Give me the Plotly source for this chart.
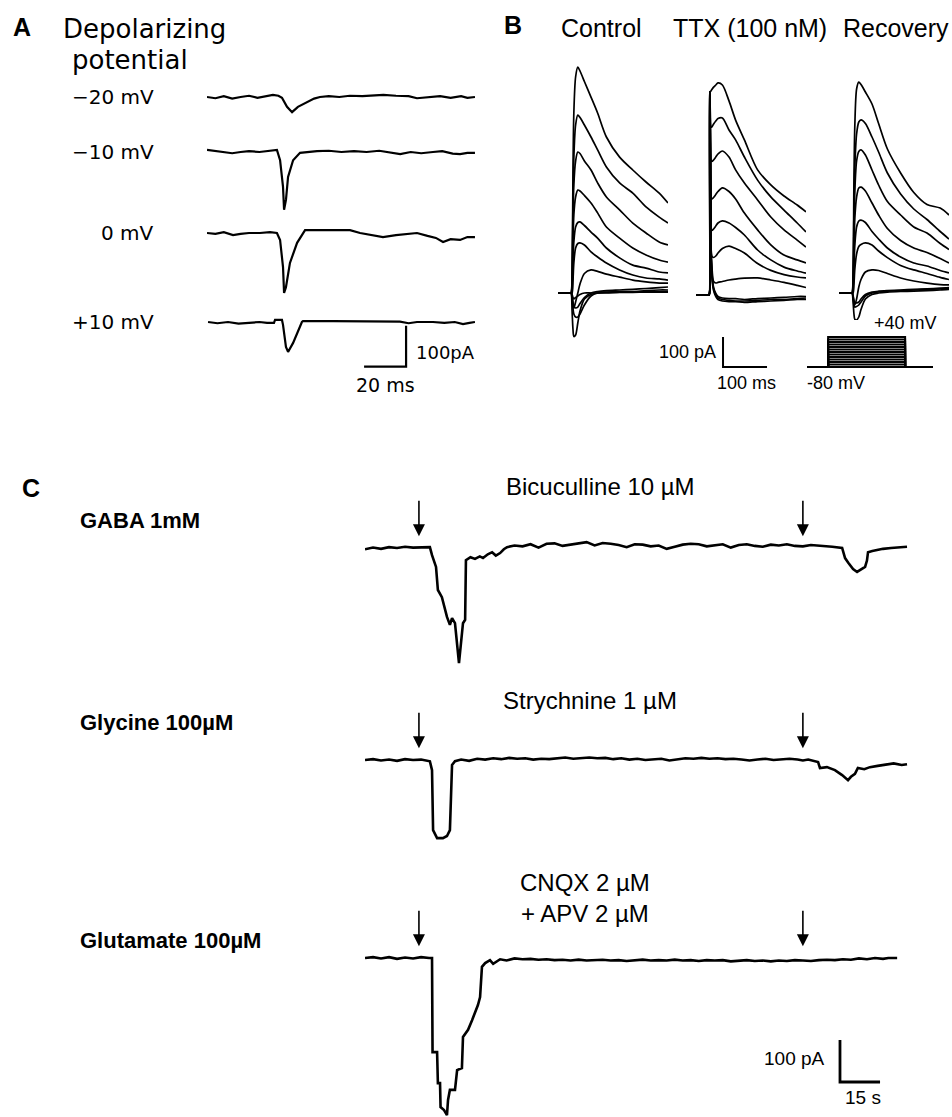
import plotly.graph_objects as go

W, H = 952, 1117

# ---------------- Panel A: currents evoked by depolarizing steps (ms, pA) ----------------
A_LABELS = ["−20 mV", "−10 mV", "0 mV", "+10 mV"]
A_T_M20 = [0, 4, 8, 12, 16, 20, 24, 28, 31.4, 34, 35.7, 38.1, 40.5, 43.3, 47.6, 51, 53.8, 58, 63, 68,
           74, 80, 84, 90, 96, 100, 106, 111, 116, 121, 124, 127.6]
A_I_M20 = [0, -3, 2, -4, 0, 3, -2, 2, 5, 3, -2, -24, -37, -24, -12, -4, 0, 2, 0, 3,
           2, 4, 5, 3, 2, -3, 0, 2, -2, 2, -2, 0]
A_T_M10 = [0, 4, 8, 12, 16, 20, 25, 30, 33.3, 34.8, 36.2, 36.7, 37.6, 38.6, 41, 44.3, 48, 52.4, 58, 64,
           70, 76, 82, 88, 92, 97, 102, 107.6, 112, 117, 120.5, 124, 127.6]
A_I_M10 = [5, 2, 0, -3, 0, 2, 0, 2, 5, -20, -85, -141, -117, -61, -20, -2, 0, 2, 3, 0,
           2, 0, 3, -2, -5, 0, -3, 0, 2, -4, -5, -2, -2]
A_T_0 = [0, 4, 8, 12.4, 16, 20, 25.2, 30, 33.3, 34.8, 36.2, 36.7, 37.6, 39.5, 42.9, 46.7, 55, 62, 68.1,
         72.9, 78, 83.8, 90, 95, 100, 105, 109, 112.4, 116, 120.5, 124, 127.6]
A_I_0 = [0, -2, 2, -5, -2, 0, 0, 2, 0, -17, -83, -146, -132, -73, -24, 7, 7, 7, 7,
         0, -5, -10, -5, -3, 0, -7, -12, -22, -15, -17, -10, -10]
A_T_P10 = [0.5, 5, 10, 15, 20, 25, 28.6, 31.9, 32.4, 35.7, 36.2, 37.6, 38.6, 41, 45.2, 45.7, 60, 75,
           91.9, 96, 100, 107.6, 113, 118, 121.9, 125, 127.6]
A_I_P10 = [0, -3, 0, -4, -2, 0, -2, -2, 5, 5, -7, -61, -73, -51, 0, 2, 2, 2,
           1, -3, 0, 0, -2, 0, -5, -2, 0]
A_SCALE_MS, A_SCALE_PA = 20, 100

# ---------------- Panel B: outward current families (ms, pA) ----------------
B_T = [0, 29, 30, 32, 34, 36, 40, 45, 50, 60, 75, 90, 110, 140, 170, 200, 230, 250]
B_CONTROL = [
    [0, 0, 0, 60, 400, 600, 720, 753, 740, 705, 653, 600, 520, 453, 410, 370, 333, 300],
    [0, 0, 0, 40, 300, 450, 560, 593, 585, 560, 520, 477, 420, 367, 333, 287, 253, 233],
    [0, 0, 0, 30, 240, 360, 440, 470, 465, 440, 410, 367, 320, 277, 233, 200, 170, 160],
    [0, 0, 0, 20, 160, 260, 320, 343, 340, 325, 300, 267, 220, 183, 150, 127, 110, 103],
    [0, 0, 0, 10, 100, 170, 220, 235, 237, 225, 203, 183, 150, 117, 93, 83, 70, 67],
    [0, 0, 0, 0, 40, 100, 150, 165, 167, 160, 137, 120, 100, 77, 60, 50, 47, 43],
    [0, 0, 0, -10, -40, -50, -30, 0, 30, 65, 77, 72, 63, 53, 43, 37, 33, 33],
    [0, 0, 0, -10, -30, -45, -50, -47, -35, -15, 0, 5, 8, 10, 12, 15, 18, 20],
    [0, 0, 0, -20, -50, -70, -80, -80, -70, -40, -10, 0, 3, 5, 5, 8, 10, 10],
    [0, 0, 0, -60, -120, -145, -140, -100, -60, -20, -5, 0, 0, 3, 3, 5, 5, 5],
    [0, 0, 0, -5, -15, -20, -15, -10, -5, 0, 0, 0, 2, 2, 2, 3, 3, 3],
]
B_TTX = [
    [0, 0, 0, 677, 680, 685, 693, 700, 707, 700, 647, 583, 517, 417, 367, 330, 300, 277],
    [0, 0, 0, 677, 560, 560, 570, 580, 588, 590, 550, 517, 460, 383, 327, 283, 240, 210],
    [0, 0, 0, 677, 450, 445, 450, 460, 470, 480, 460, 417, 373, 317, 260, 217, 183, 160],
    [0, 0, 0, 677, 330, 320, 325, 335, 345, 357, 345, 320, 273, 217, 167, 133, 117, 107],
    [0, 0, 0, 677, 220, 215, 220, 230, 240, 247, 240, 225, 200, 150, 117, 93, 80, 73],
    [0, 0, 0, 677, 200, 130, 125, 130, 140, 155, 163, 155, 140, 105, 82, 68, 60, 57],
    [0, 0, 0, 677, 180, 100, 45, 40, 42, 45, 50, 53, 56, 57, 50, 42, 32, 25],
    [0, 0, 0, 677, 170, 80, 25, 5, -5, -10, -12, -12, -15, -12, -10, -8, -5, -5],
    [0, 0, 0, 677, 160, 70, 20, 0, -10, -15, -18, -20, -20, -18, -15, -15, -12, -10],
    [0, 0, 0, 677, 150, 60, 15, -5, -15, -20, -22, -22, -25, -22, -20, -18, -15, -15],
]
B_RECOVERY = [
    [0, 0, 0, 60, 380, 560, 680, 703, 695, 670, 630, 565, 480, 400, 335, 295, 283, 260],
    [0, 0, 0, 40, 280, 420, 530, 570, 577, 565, 520, 470, 400, 330, 280, 245, 205, 180],
    [0, 0, 0, 30, 220, 340, 440, 472, 477, 460, 410, 360, 305, 260, 220, 200, 165, 145],
    [0, 0, 0, 20, 150, 250, 320, 350, 353, 340, 300, 260, 215, 175, 150, 135, 115, 100],
    [0, 0, 0, 10, 90, 160, 220, 240, 243, 235, 205, 180, 150, 120, 100, 90, 75, 67],
    [0, 0, 0, 0, 30, 80, 130, 155, 162, 167, 160, 140, 118, 92, 77, 65, 52, 45],
    [0, 0, 0, -10, -30, -40, -20, 20, 45, 70, 77, 75, 65, 50, 40, 33, 28, 27],
    [0, 0, 0, -10, -25, -33, -33, -30, -20, -5, 3, 6, 8, 10, 12, 14, 16, 18],
    [0, 0, 0, -15, -40, -47, -45, -40, -30, -10, 0, 4, 6, 8, 10, 12, 14, 16],
    [0, 0, 0, -30, -70, -88, -90, -80, -55, -20, -5, 0, 3, 5, 6, 8, 10, 12],
]
B_CONDITIONS = ["Control", "TTX (100 nM)", "Recovery"]
B_HOLD_MV = -80
B_STEP_MV = [-80, -70, -60, -50, -40, -30, -20, -10, 0, 10, 20, 30, 40]
B_PROTOCOL_T = [0, 48, 223, 286]  # ms: start, step on, step off, end
B_SCALE_MS, B_SCALE_PA = 100, 100

# ---------------- Panel C: agonist-evoked currents (s, pA) ----------------
C_NAMES = ["GABA 1mM", "Glycine 100µM", "Glutamate 100µM"]
C_BLOCKERS = ["Bicuculline 10 µM", "Strychnine 1 µM", "CNQX 2 µM<br>+ APV 2 µM"]
C_ARROW_T = [20.2, 164]
C_T_GABA = [0, 3, 6, 9, 12, 15, 18, 21, 24.3, 25.1, 26.6, 27.3, 28.8, 30.7, 31.8, 32.6, 33.7, 35.2, 36.7,
            37.5, 37.8, 39.5, 41.2, 43, 44.2, 46, 47.6, 49, 50.6, 52, 53.2, 56, 59, 62, 65, 68, 71, 74,
            77, 80, 83, 86, 89, 92, 95, 98, 101, 104, 107, 110, 113, 116, 119, 122, 125, 128, 131, 134,
            137, 140, 143, 146, 149, 152, 155, 158, 161, 164, 167, 170, 172.5, 175, 178.7, 179.8, 181,
            182.8, 184.3, 185.5, 187.3, 188, 188.4, 190, 192, 194, 197, 200, 203]
C_I_GABA = [-3, 1, -2, 2, 0, 3, 1, 2, 2, -17, -45, -100, -117, -164, -183, -167, -179, -274, -179,
            -171, -29, -22, -26, -20, -24, -15, -10, -18, -12, -3, 2, 6, 4, 9, 1, 10, 11, 5,
            8, 12, 14, 6, 12, 10, 7, 2, 9, 8, 4, 6, -2, 3, 8, 10, 9, 4, 6, 9,
            1, 7, 9, 5, 3, 8, 6, 9, 5, 4, 7, 6, 5, 3, 0, -24, -35,
            -50, -57, -52, -45, -30, -10, -7, -4, -2, 0, 2, 3]
C_T_GLY = [0, 3, 6, 9, 12, 15, 18, 21, 24.3, 25.1, 25.5, 27, 29.2, 30.7, 31.8, 32.2, 32.6, 33.7, 36,
           39, 42, 45, 48, 51, 54, 57, 60, 63, 66, 69, 72, 75, 78, 81, 84, 87, 90, 93, 96, 99, 102,
           105, 108, 111, 114, 117, 120, 123, 126, 129, 132, 135, 138, 141, 144, 147, 150, 153, 156,
           159, 162, 164, 166, 169.7, 170.4, 173, 176, 178.7, 180.9, 182, 183.5, 184.6, 187, 189.1,
           192, 194.8, 198, 201, 203]
C_I_GLY = [0, 2, -1, 1, -2, 2, 0, 1, -3, -24, -167, -186, -186, -181, -167, -71, -12, -3, 1,
           -2, 3, 1, 4, 2, 5, 3, 4, 1, 3, 2, 4, 6, 3, 5, 6, 4, 5, 2, 4, 1, 3,
           0, 2, 3, -1, 1, 4, 3, 5, 3, 4, 2, 3, 1, -1, 1, 3, 0, 2,
           3, 1, -1, 1, -5, -19, -17, -24, -36, -48, -40, -33, -19, -22, -17,
           -14, -12, -8, -12, -10]
C_T_GLU = [0, 3, 6, 9, 12, 15, 18, 21, 24, 25.1, 25.3, 27, 27.3, 28.1, 28.3, 29.6, 30.7, 31.1, 31.8,
           33.7, 34.5, 36.3, 36.7, 38.6, 40.1, 42.3, 43.1, 43.8, 45, 46.8, 48, 50.6, 53, 56, 59, 62,
           65, 68, 71, 74, 77, 80, 83, 86, 89, 92, 95, 98, 101, 104, 107, 110, 113, 116, 119, 122,
           125, 128, 131, 134, 137, 140, 143, 146, 149, 152, 155, 158, 161, 164, 167, 170, 173, 176,
           179, 182, 185, 188, 191, 194, 196, 199.3]
C_I_GLU = [0, 2, -1, 2, -2, 1, -1, 2, 0, 0, -224, -224, -298, -298, -355, -362, -374, -338, -314,
           -314, -267, -262, -188, -171, -148, -112, -93, -21, -12, -5, -14, -3, -6, -1, -3, -2,
           -4, -3, -5, -4, -6, -4, -6, -5, -4, -6, -5, -7, -5, -4, -6, -5, -6, -4, -6, -5,
           -7, -5, -6, -5, -8, -6, -5, -7, -6, -8, -6, -7, -5, -6, -7, -5, -4, -5,
           -3, -4, -1, -3, 0, -2, 0, 0]
C_SCALE_S, C_SCALE_PA = 15, 100

# ---------------- layout helpers (pixel boxes -> paper domains) ----------------
layout = dict(width=W, height=H, margin=dict(l=0, r=0, t=0, b=0),
              paper_bgcolor="white", plot_bgcolor="white", showlegend=False)


def add_axes(n, xpx, ypx, xr, yr):
    s = "" if n == 1 else str(n)
    layout["xaxis" + s] = dict(domain=[xpx[0] / W, xpx[1] / W], range=xr, visible=False,
                               fixedrange=True, anchor="y" + s)
    layout["yaxis" + s] = dict(domain=[1 - ypx[1] / H, 1 - ypx[0] / H], range=yr, visible=False,
                               fixedrange=True, anchor="x" + s)


def yrange(base_px, top_px, bot_px, px_per_unit):
    return [(base_px - bot_px) / px_per_unit, (base_px - top_px) / px_per_unit]


# panel A axis: 2.1 px/ms, 0.41 px/pA, first baseline at y=97
A_PXMS, A_PXPA = 2.1, 0.41
add_axes(1, (207, 207 + 127.6 * A_PXMS), (60, 400), [0, 127.6], yrange(97, 60, 400, A_PXPA))
A_BASE_PX = [97, 152, 233, 322]
A_OFFSETS = [(97 - b) / A_PXPA for b in A_BASE_PX]

# panel B axes: 0.44 px/ms, 0.30 px/pA
B_PXMS, B_PXPA = 0.44, 0.30
B_X0 = [558, 696, 839]
B_BASE = [293, 295, 293]
for k in range(3):
    add_axes(2 + k, (B_X0[k], B_X0[k] + 250 * B_PXMS), (40, 380), [0, 250],
             yrange(B_BASE[k], 40, 380, B_PXPA))
# protocol axis: 0.25 px/mV, hold level at y=367
add_axes(5, (807, 807 + 286 * B_PXMS), (320, 375), [0, 286],
         [B_HOLD_MV - (375 - 367) / 0.25, B_HOLD_MV + (367 - 320) / 0.25])

# panel C axis: 2.67 px/s, 0.42 px/pA, GABA baseline at y=548
C_PXS, C_PXPA = 2.67, 0.42
add_axes(6, (365, 365 + 204 * C_PXS), (470, 1117), [0, 204], yrange(548, 470, 1117, C_PXPA))
C_BASE_PX = [548, 760, 958]
C_OFFSETS = [(548 - b) / C_PXPA for b in C_BASE_PX]

fig = go.Figure()


def line(x, y, ax, width=1.6, shape="linear"):
    s = "" if ax == 1 else str(ax)
    ln = dict(color="black", width=width, shape=shape)
    if shape == "spline":
        ln["smoothing"] = 0.8
    fig.add_trace(go.Scatter(x=x, y=y, mode="lines", xaxis="x" + s, yaxis="y" + s,
                             line=ln, hoverinfo="skip", cliponaxis=False))


# ---- A traces
for (t, i), off in zip([(A_T_M20, A_I_M20), (A_T_M10, A_I_M10), (A_T_0, A_I_0), (A_T_P10, A_I_P10)],
                       A_OFFSETS):
    line(t, [v + off for v in i], 1, 2.2)
# A scale bar (vertical right, horizontal bottom)
a_bar_t = 94.8
a_bar_y = A_OFFSETS[3] - 9 - A_SCALE_PA
line([a_bar_t - A_SCALE_MS, a_bar_t, a_bar_t], [a_bar_y, a_bar_y, a_bar_y + A_SCALE_PA], 1, 2.2)

# ---- B traces
for k, fam in enumerate([B_CONTROL, B_TTX, B_RECOVERY]):
    for tr in fam:
        line(B_T, tr, 2 + k, 1.7, "spline")
# B scale bar on TTX axis
b_bar_t = 61.4
b_bar_y = -240
line([b_bar_t, b_bar_t, b_bar_t + B_SCALE_MS], [b_bar_y + B_SCALE_PA, b_bar_y, b_bar_y], 3, 2.0)
# voltage protocol
for v in B_STEP_MV:
    t0, t1, t2, t3 = B_PROTOCOL_T
    line([t0, t1, t1, t2, t2, t3], [B_HOLD_MV, B_HOLD_MV, v, v, B_HOLD_MV, B_HOLD_MV], 5, 2.0)

# ---- C traces
for (t, i), off in zip([(C_T_GABA, C_I_GABA), (C_T_GLY, C_I_GLY), (C_T_GLU, C_I_GLU)], C_OFFSETS):
    line(t, [v + off for v in i], 6, 2.6)
c_bar_t = 177.9
c_bar_y = (548 - 1082) / C_PXPA
line([c_bar_t, c_bar_t, c_bar_t + C_SCALE_S], [c_bar_y + C_SCALE_PA, c_bar_y, c_bar_y], 6, 2.8)

# ---------------- annotations ----------------
ann = []
SANS = "Liberation Sans, Arial, sans-serif"
GOTH = "DejaVu Sans, sans-serif"


def txt(text, x, y, size, family=SANS, anchor="left", bold=False):
    ann.append(dict(text=("<b>%s</b>" % text) if bold else text, x=x / W, y=1 - y / H,
                    xref="paper", yref="paper", xanchor=anchor, yanchor="middle",
                    showarrow=False, font=dict(size=size, family=family, color="black")))


txt("A", 22, 27, 25, SANS, "center", True)
txt("Depolarizing", 61, 29, 26, GOTH)
txt("potential", 70, 60, 26, GOTH)
for lab, b in zip(A_LABELS, A_BASE_PX):
    txt(lab, 156, b, 20, GOTH, "right")
txt("100pA", 414, 352, 18, GOTH)
txt("20 ms", 385, 385, 19, GOTH, "center")

txt("B", 513, 25, 25, SANS, "center", True)
for lab, cx in zip(B_CONDITIONS, [601, 750, 896]):
    txt(lab, cx, 28, 25, SANS, "center")
txt("100 pA", 718, 352, 18, SANS, "right")
txt("100 ms", 746, 383, 18, SANS, "center")
txt("+40 mV", 905, 323, 18, SANS, "center")
txt("-80 mV", 836, 383, 18, SANS, "center")

txt("C", 31, 488, 25, SANS, "center", True)
for lab, y in zip(C_NAMES, [520, 722, 940]):
    txt(lab, 78, y, 22, SANS, "left", True)
txt(C_BLOCKERS[0], 600, 486, 24, SANS, "center")
txt(C_BLOCKERS[1], 590, 700, 24, SANS, "center")
ann.append(dict(text=C_BLOCKERS[2], x=585 / W, y=1 - 898 / H, xref="paper", yref="paper",
                xanchor="center", yanchor="middle", showarrow=False, align="center",
                font=dict(size=24, family=SANS, color="black")))
txt("100 pA", 827, 1058, 19, SANS, "right")
txt("15 s", 863, 1097, 19, SANS, "center")

# arrows marking agonist applications
for off in C_OFFSETS:
    for t in C_ARROW_T:
        ann.append(dict(x=t, y=off + 28, xref="x6", yref="y6", ax=0, ay=-37, text="",
                        showarrow=True, arrowhead=2, arrowsize=1.5, arrowwidth=1.6,
                        arrowcolor="black"))

layout["annotations"] = ann
fig.update_layout(**layout)
fig.write_html("out.html", config={"displayModeBar": False, "staticPlot": True},
               post_script="document.body.style.margin='0';document.body.style.overflow='hidden';")
